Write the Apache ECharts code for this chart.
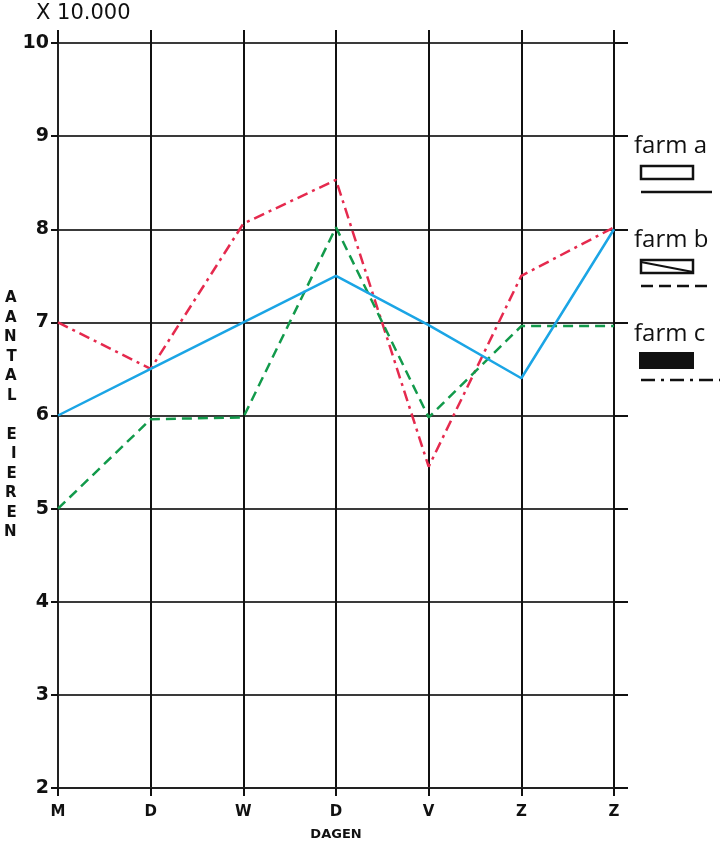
<!DOCTYPE html>
<html><head><meta charset="utf-8">
<script src="https://cdn.jsdelivr.net/npm/echarts@6/dist/echarts.min.js"></script>
<style>html,body{margin:0;padding:0;background:#fff}#c{width:726px;height:846px}</style>
</head><body><div id="c"></div>
<script>
const days = ['M', 'D', 'W', 'D', 'V', 'Z', 'Z'];
const farmA = [6.0, 6.5, 7.0, 7.5, 6.97, 6.4, 8.0];
const farmB = [5.0, 5.96, 5.98, 8.02, 5.98, 6.96, 6.96];
const farmC = [7.0, 6.5, 8.06, 8.53, 5.45, 7.5, 8.02];
const seriesNames = ['farm a', 'farm b', 'farm c'];
const yName = 'AANTAL EIEREN';
const xName = 'DAGEN';
const unitLabel = 'X 10.000';

const hand = 'DejaVu Sans';
const chart = echarts.init(document.getElementById('c'));
const yNameText = yName.split('').map(ch => ch === ' ' ? '' : ch).join('\n');

chart.setOption({
  animation: false,
  grid: { left: 58, right: 112, top: 43, bottom: 57 },
  xAxis: [{
    type: 'category', data: days, boundaryGap: false,
    axisLine: { show: true, lineStyle: { color: '#222', width: 2 } },
    axisTick: { show: true, length: 8, alignWithLabel: true, lineStyle: { color: '#111', width: 2 } },
    axisLabel: { color: '#111', fontFamily: hand, fontWeight: 'bold', fontSize: 15, margin: 17 },
    splitLine: { show: true, lineStyle: { color: '#111', width: 2 } },
    name: xName, nameLocation: 'middle', nameGap: 40,
    nameTextStyle: { color: '#111', fontFamily: hand, fontSize: 13, fontWeight: 'bold' }
  }, {
    type: 'category', data: days, boundaryGap: false, position: 'top',
    axisLine: { show: false },
    axisTick: { show: true, length: 13, lineStyle: { color: '#111', width: 2 } },
    axisLabel: { show: false }, splitLine: { show: false }
  }],
  yAxis: [{
    type: 'value', min: 2, max: 10, interval: 1,
    axisLine: { show: true, lineStyle: { color: '#222', width: 2 } },
    axisTick: { show: true, length: 7, lineStyle: { color: '#111', width: 2 } },
    axisLabel: { color: '#111', fontFamily: hand, fontWeight: 'bold', fontSize: 19, margin: 9 },
    splitLine: { show: true, lineStyle: { color: '#3a3a3a', width: 2 } },
    name: yNameText, nameLocation: 'middle', nameRotate: 0, nameGap: 40,
    nameTextStyle: { color: '#111', fontFamily: hand, fontWeight: 'bold', fontSize: 15, lineHeight: 19.5, padding: [10, 0, 0, 0] }
  }, {
    type: 'value', min: 2, max: 10, interval: 1, position: 'right',
    axisLine: { show: false },
    axisTick: { show: true, length: 14, lineStyle: { color: '#111', width: 2 } },
    axisLabel: { show: false }, splitLine: { show: false }
  }],
  series: [
    { name: seriesNames[0], type: 'line', data: farmA, symbol: 'none',
      lineStyle: { color: '#1ba5e5', width: 2.5, type: 'solid' }, z: 5 },
    { name: seriesNames[1], type: 'line', data: farmB, symbol: 'none',
      lineStyle: { color: '#129a4b', width: 2.5, type: [10, 6] }, z: 4 },
    { name: seriesNames[2], type: 'line', data: farmC, symbol: 'none',
      lineStyle: { color: '#e52a4e', width: 2.5, type: [11, 5, 3, 5] }, z: 3 }
  ],
  graphic: [
    { type: 'text', left: 36, top: 3, style: { text: unitLabel, fontFamily: hand, fontSize: 21, fill: '#111' } },
    { type: 'text', left: 634, top: 134, style: { text: seriesNames[0], fontFamily: 'Open Sans', fontSize: 24, fill: '#111' } },
    { type: 'rect', shape: { x: 641, y: 166, width: 52, height: 13 }, style: { fill: '#fff', stroke: '#111', lineWidth: 2.5 } },
    { type: 'line', shape: { x1: 641, y1: 192, x2: 712, y2: 192 }, style: { stroke: '#111', lineWidth: 2.5 } },
    { type: 'text', left: 634, top: 228, style: { text: seriesNames[1], fontFamily: 'Open Sans', fontSize: 24, fill: '#111' } },
    { type: 'rect', shape: { x: 641, y: 260, width: 52, height: 13 }, style: { fill: '#fff', stroke: '#111', lineWidth: 2.5 } },
    { type: 'line', shape: { x1: 641, y1: 262, x2: 693, y2: 272 }, style: { stroke: '#111', lineWidth: 2 } },
    { type: 'line', shape: { x1: 641, y1: 286, x2: 712, y2: 286 }, style: { stroke: '#111', lineWidth: 2.5, lineDash: [12, 6] } },
    { type: 'text', left: 634, top: 322, style: { text: seriesNames[2], fontFamily: 'Open Sans', fontSize: 24, fill: '#111' } },
    { type: 'rect', shape: { x: 640, y: 353, width: 53, height: 15 }, style: { fill: '#111', stroke: '#111', lineWidth: 2 } },
    { type: 'line', shape: { x1: 641, y1: 380, x2: 720, y2: 380 }, style: { stroke: '#111', lineWidth: 2.5, lineDash: [14, 6, 3, 6] } }
  ]
});
</script></body></html>
